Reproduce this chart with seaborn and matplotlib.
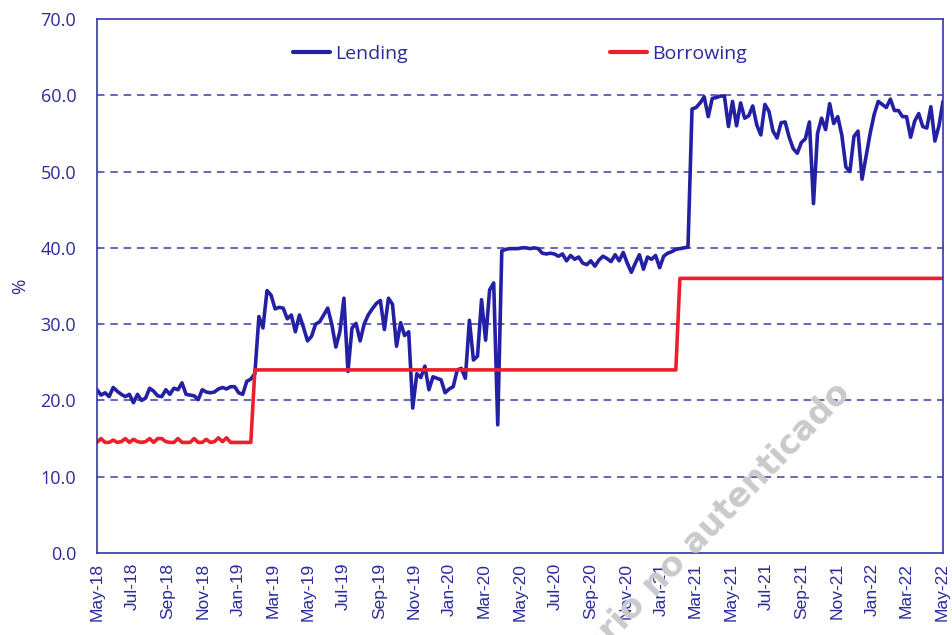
import matplotlib
matplotlib.use("Agg")
import matplotlib.pyplot as plt
import numpy as np
import pandas as pd
import seaborn as sns

# ---- data (weekly) ----
start_date = "2018-05-01"
lending = [
    21.4, 20.7, 21.0, 20.5, 21.7, 21.2, 20.8, 20.5, 20.8, 19.7,
    20.8, 20.0, 20.3, 21.6, 21.2, 20.6, 20.5, 21.4, 20.8, 21.6,
    21.4, 22.3, 20.8, 20.7, 20.6, 20.1, 21.4, 21.1, 21.0, 21.1,
    21.5, 21.7, 21.5, 21.8, 21.8, 21.0, 20.8, 22.5, 22.8, 23.5,
    31.0, 29.5, 34.4, 33.8, 32.0, 32.2, 32.1, 30.7, 31.2, 29.0,
    31.2, 29.6, 27.8, 28.4, 30.0, 30.3, 31.2, 32.1, 30.0, 27.0,
    29.0, 33.4, 23.8, 29.5, 30.1, 27.8, 30.0, 31.2, 32.0, 32.7,
    33.1, 29.3, 33.4, 32.6, 27.1, 30.2, 28.5, 29.0, 19.0, 23.5,
    23.0, 24.5, 21.4, 23.1, 22.9, 22.7, 21.0, 21.5, 21.8, 24.0,
    24.2, 22.9, 30.5, 25.3, 25.8, 33.2, 27.9, 34.5, 35.4, 16.8,
    39.6, 39.8, 39.9, 39.9, 39.9, 40.0, 40.0, 39.9, 40.0, 39.9,
    39.3, 39.2, 39.3, 39.2, 38.9, 39.2, 38.3, 39.0, 38.5, 38.8,
    38.0, 37.8, 38.3, 37.6, 38.4, 38.9, 38.6, 38.2, 39.1, 38.3,
    39.4, 38.0, 36.8, 38.0, 39.1, 37.2, 38.8, 38.5, 39.0, 37.4,
    38.9, 39.3, 39.5, 39.8, 39.9, 40.0, 40.1, 58.2, 58.4, 59.0,
    59.8, 57.2, 59.6, 59.7, 59.9, 59.9, 55.9, 59.2, 56.0, 59.0,
    57.0, 57.3, 58.6, 56.1, 54.8, 58.8, 57.9, 55.3, 54.4, 56.4,
    56.5, 54.5, 53.0, 52.4, 53.8, 54.3, 56.5, 45.8, 55.0, 57.0,
    55.5, 58.9, 56.3, 57.2, 54.8, 50.6, 50.0, 54.6, 55.3, 49.0,
    52.0, 55.0, 57.5, 59.2, 58.8, 58.4, 59.5, 58.0, 58.0, 57.2,
    57.2, 54.5, 56.6, 57.6, 55.9, 55.7, 58.5, 54.0, 56.0, 59.2,
]
borrowing_early = [
    14.5, 15.0, 14.5, 14.5, 14.8, 14.5, 14.6, 15.0, 14.5, 14.9,
    14.6, 14.5, 14.6, 15.0, 14.5, 15.0, 15.0, 14.6, 14.5, 14.5,
    15.0, 14.5, 14.5, 14.5, 15.0, 14.5, 14.5, 14.9, 14.5, 14.6,
    15.1, 14.6, 15.1, 14.5, 14.5, 14.5, 14.5, 14.5, 14.5,
]
borrowing_mid = [24.0] * 105
borrowing_late = [36.0] * 66
borrowing = borrowing_early + borrowing_mid + borrowing_late
series_names = ["Lending", "Borrowing"]
yticks = [0, 10, 20, 30, 40, 50, 60, 70]

n = len(lending)
assert len(borrowing) == n, (len(borrowing), n)
dates = pd.date_range(start_date, periods=n, freq="7D")

df = pd.DataFrame({
    "date": np.concatenate([dates, dates]),
    "value": lending + borrowing,
    "series": [series_names[0]] * n + [series_names[1]] * n,
})

BLUE = "#2320a3"
RED = "#ee1f2d"
TXT = "#2b2b9c"
GRID = "#4a4ab0"

sns.set_theme(style="white")
plt.rcParams["font.family"] = ["Liberation Sans", "DejaVu Sans"]

fig = plt.figure(figsize=(9.53, 6.35), dpi=100)
ax = fig.add_axes([97 / 953, 1 - 553 / 635, 846 / 953, 534 / 635])

sns.lineplot(data=df, x="date", y="value", hue="series",
             palette={series_names[0]: BLUE, series_names[1]: RED},
             linewidth=2.6, ax=ax, legend=True)

ax.set_ylim(0, 70)
ax.set_yticks(yticks)
ax.set_yticklabels([f"{v:.1f}" for v in yticks], fontsize=13,
                   color=TXT, family=["Open Sans", "DejaVu Sans"])
ax.set_xlim(dates[0], dates[-1])
tick_dates = pd.date_range("2018-05-01", "2022-05-01", freq="2MS")
ax.set_xticks(tick_dates)
ax.set_xticklabels([d.strftime("%b-%y") for d in tick_dates], rotation=90,
                   fontsize=12.5, color=TXT)
ax.tick_params(axis="y", length=0, pad=15)
ax.tick_params(axis="x", length=0, pad=7)

for v in yticks[1:-1]:
    ax.axhline(v, color=GRID, lw=1.2, ls=(0, (4.5, 3.5)), zorder=0)

for side, sp in ax.spines.items():
    sp.set_visible(True)
    sp.set_color("#3535a5")
    sp.set_linewidth(1.2)

ax.set_xlabel("")
ax.set_ylabel("%", fontsize=13.5, color=TXT, family=["Open Sans", "DejaVu Sans"],
              labelpad=8)

leg = ax.legend(loc="center", bbox_to_anchor=(0.5, 0.934), ncol=2, frameon=False,
                handlelength=1.9, handletextpad=0.25, columnspacing=10.4,
                prop={"family": ["Open Sans", "DejaVu Sans"], "size": 14})
for t in leg.get_texts():
    t.set_color(TXT)
for h in leg.get_lines():
    h.set_linewidth(3)

# watermark (pixel coordinates; partly cut off at the bottom edge as in the reference)
fig.text(852, 635 - 394, "Usuario no autenticado", transform=None,
         fontsize=24, fontweight="bold", color="#cacaca", rotation=46,
         rotation_mode="anchor", ha="right", va="baseline", zorder=10,
         family=["DejaVu Sans"])
fig.savefig("out.png", dpi=100)
